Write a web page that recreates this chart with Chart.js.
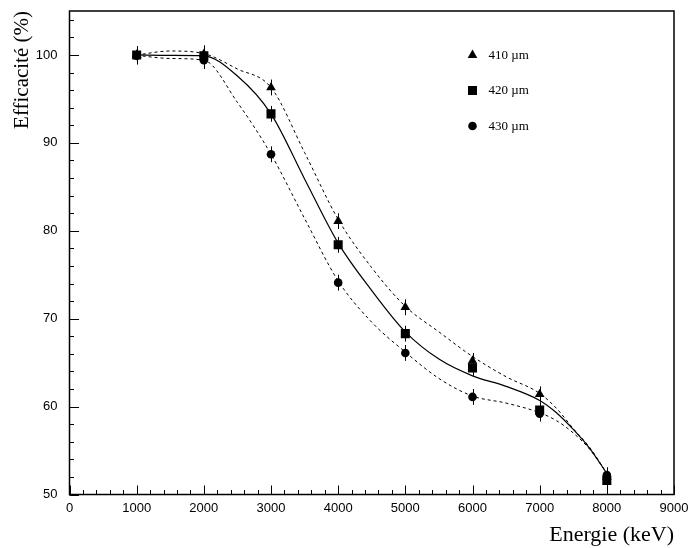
<!DOCTYPE html>
<html>
<head>
<meta charset="utf-8">
<script src="https://cdn.jsdelivr.net/npm/chart.js@4.4.0/dist/chart.umd.min.js"></script>
<style>
  html, body { margin: 0; padding: 0; background: #fff; }
  canvas { display: block; }
</style>
</head>
<body>
<canvas id="effChart" width="691" height="548"></canvas>
<script>
// mesures (keV, %)
const energy = [1000, 2000, 3000, 4000, 5000, 6000, 7000, 8000];
const eff410 = [100.0, 100.1, 96.3, 81.1, 71.3, 65.2, 61.4, 52.0];
const eff420 = [100.0, 99.9, 93.3, 78.4, 68.3, 64.4, 59.6, 51.6];
const eff430 = [99.9, 99.4, 88.7, 74.1, 66.1, 61.1, 59.2, 52.2];
const errBar = [1.0, 1.0, 0.9, 0.9, 0.9, 0.9, 0.9, 0.9];

// courbes ajustées
const energyFit = [1000, 1500, 2000, 2500, 3000, 3500, 4000, 4500, 5000, 5500, 6000, 6500, 7000, 7250, 7500, 7750, 8000];
const fit410 = [100.0, 100.45, 100.15, 98.4, 96.3, 88.9, 81.3, 75.8, 71.4, 68.5, 65.7, 63.4, 61.5, 59.8, 57.5, 55.3, 52.4];
const fit420 = [100.0, 99.95, 99.9, 97.6, 93.3, 85.9, 78.6, 73.2, 68.5, 65.4, 63.5, 62.3, 60.7, 59.3, 57.4, 55.2, 52.4];
const fit430 = [99.95, 99.6, 99.4, 94.6, 88.7, 81.4, 74.3, 69.6, 66.2, 63.2, 61.2, 60.4, 59.3, 58.4, 57.0, 55.1, 52.4];

const legendItems = [
  { label: '410 \u00b5m', style: 'triangle' },
  { label: '420 \u00b5m', style: 'rect' },
  { label: '430 \u00b5m', style: 'circle' }
];

const xy = (xs, ys) => xs.map((x, i) => ({ x: x, y: ys[i] }));

function pointSet(label, vals, style, radius) {
  return {
    label: label,
    data: xy(energy, vals),
    showLine: false,
    pointStyle: style,
    pointRadius: radius,
    pointBackgroundColor: '#000',
    pointBorderColor: '#000',
    pointBorderWidth: 0,
    errors: errBar
  };
}

function fitSet(vals, dashed) {
  return {
    data: xy(energyFit, vals),
    showLine: true,
    borderColor: '#000',
    borderWidth: dashed ? 1 : 1.2,
    borderDash: dashed ? [3, 3] : [],
    pointRadius: 0,
    cubicInterpolationMode: 'monotone',
    fill: false
  };
}

function drawMarker(ctx, style, x, y) {
  ctx.beginPath();
  if (style === 'triangle') {
    ctx.moveTo(x, y - 5.5);
    ctx.lineTo(x + 4.8, y + 3);
    ctx.lineTo(x - 4.8, y + 3);
    ctx.closePath();
  } else if (style === 'rect') {
    ctx.rect(x - 4.5, y - 4.5, 9, 9);
  } else {
    ctx.arc(x, y, 4.3, 0, Math.PI * 2);
  }
  ctx.fill();
}

// cadre, graduations internes, barres d'erreur et légende
const decor = {
  id: 'decor',
  afterDraw(chart) {
    const ctx = chart.ctx;
    const a = chart.chartArea;
    const xs = chart.scales.x;
    const ys = chart.scales.y;
    ctx.save();
    ctx.strokeStyle = '#000';
    ctx.fillStyle = '#000';

    // barres d'erreur
    ctx.lineWidth = 1;
    chart.data.datasets.forEach(ds => {
      if (!ds.errors) return;
      ds.data.forEach((p, i) => {
        const px = Math.round(xs.getPixelForValue(p.x)) + 0.5;
        ctx.beginPath();
        ctx.moveTo(px, ys.getPixelForValue(p.y + ds.errors[i]));
        ctx.lineTo(px, ys.getPixelForValue(p.y - ds.errors[i]));
        ctx.stroke();
      });
    });

    // graduations
    ctx.lineWidth = 1;
    for (let v = 0; v <= 9000; v += 200) {
      const px = Math.round(xs.getPixelForValue(v)) + 0.5;
      const len = v % 1000 === 0 ? 9 : 4.5;
      ctx.beginPath();
      ctx.moveTo(px, a.bottom);
      ctx.lineTo(px, a.bottom - len);
      ctx.stroke();
    }
    for (let v = 50; v <= 104; v += 2) {
      const py = Math.round(ys.getPixelForValue(v)) + 0.5;
      const len = v % 10 === 0 ? 9.5 : 4.5;
      ctx.beginPath();
      ctx.moveTo(a.left, py);
      ctx.lineTo(a.left + len, py);
      ctx.stroke();
    }

    // cadre
    ctx.lineWidth = 1.5;
    ctx.strokeRect(a.left, a.top, a.right - a.left, a.bottom - a.top);

    // légende
    ctx.font = '13px "Liberation Serif", "Times New Roman", serif';
    ctx.textBaseline = 'middle';
    ctx.textAlign = 'left';
    legendItems.forEach((it, i) => {
      const lx = a.left + 403;
      const ly = a.top + 44 + i * 35.5;
      drawMarker(ctx, it.style, lx, ly);
      ctx.fillText(it.label, lx + 16, ly + 0.5);
    });
    ctx.restore();
  }
};

const serif = '"Liberation Serif", "Times New Roman", serif';
const sans = '"Liberation Sans", Arial, sans-serif';

new Chart(document.getElementById('effChart').getContext('2d'), {
  type: 'scatter',
  data: {
    datasets: [
      pointSet('420 \u00b5m', eff420, 'rect', 6.4),
      pointSet('430 \u00b5m', eff430, 'circle', 4.3),
      pointSet('410 \u00b5m', eff410, 'triangle', 5.6),
      fitSet(fit420, false),
      fitSet(fit410, true),
      fitSet(fit430, true)
    ]
  },
  options: {
    responsive: false,
    animation: false,
    events: [],
    layout: { padding: { top: 11, right: 17, left: 0, bottom: 0 } },
    plugins: {
      legend: { display: false },
      tooltip: { enabled: false }
    },
    scales: {
      x: {
        type: 'linear',
        min: 0,
        max: 9000,
        grid: { display: false, drawTicks: false },
        border: { display: false },
        ticks: {
          stepSize: 1000,
          color: '#000',
          padding: 6,
          maxRotation: 0,
          font: { family: sans, size: 13 },
          callback: v => String(v)
        },
        title: {
          display: true,
          text: 'Energie (keV)',
          align: 'end',
          color: '#000',
          font: { family: serif, size: 22 },
          padding: { top: 0, bottom: 0 }
        },
        afterFit(scale) {
          scale.height = 53.5;
          scale.paddingLeft = 0;
          scale.paddingRight = 0;
        }
      },
      y: {
        type: 'linear',
        min: 50,
        max: 105,
        grid: { display: false, drawTicks: false },
        border: { display: false },
        ticks: {
          stepSize: 10,
          color: '#000',
          padding: 12,
          font: { family: sans, size: 13 },
          callback: v => (v % 10 === 0 ? String(v) : null)
        },
        title: {
          display: true,
          text: 'Efficacit\u00e9 (%)',
          align: 'end',
          color: '#000',
          font: { family: serif, size: 21 },
          padding: { top: 10, bottom: 0 }
        },
        afterFit(scale) {
          scale.width = 69.5;
          scale.paddingTop = 0;
          scale.paddingBottom = 0;
        }
      }
    }
  },
  plugins: [decor]
});
</script>
</body>
</html>
